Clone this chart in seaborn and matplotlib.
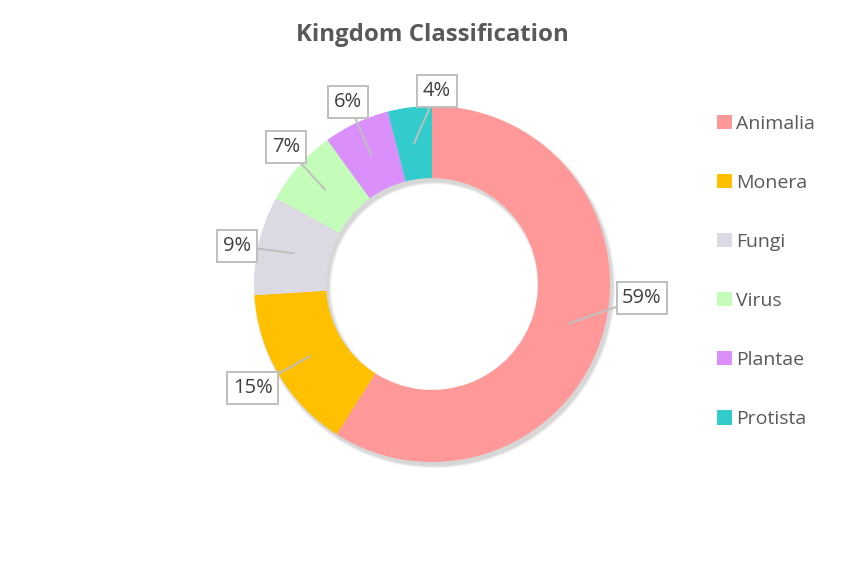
import numpy as np
import matplotlib
matplotlib.use("Agg")
import matplotlib.pyplot as plt
from matplotlib.patches import Wedge, Patch
import seaborn as sns

# ---- data ----
categories = ["Animalia", "Monera", "Fungi", "Virus", "Plantae", "Protista"]
values = [59, 15, 9, 7, 6, 4]
colors = ["#FF9999", "#FFC000", "#DDD9E3", "#C4FDBA", "#DA8FFB", "#33CCCC"]
title = "Kingdom Classification"

# label box positions (layout, in axes units relative to radius 1)
label_pos = [(1.18, -0.079), (-1.006, -0.584), (-1.096, 0.213),
             (-0.820, 0.770), (-0.472, 1.023), (0.028, 1.084)]

sns.set_theme(style="white")
plt.rcParams["font.family"] = ["Open Sans", "DejaVu Sans"]

fig = plt.figure(figsize=(8.64, 5.61), dpi=100)
ax = fig.add_axes([0, 0, 1, 1])
R = 178.0

ring_w = 0.405
# soft shadow
for i in range(8):
    d = 0.004 * (i + 1)
    ax.add_patch(Wedge((0.014, -0.02), 1.0 + d * 0.5, 0, 360, width=ring_w + d,
                       facecolor="black", alpha=0.02, lw=0, zorder=1))

wedges, _ = ax.pie(values, colors=colors, startangle=90, counterclock=False,
                   radius=1.0, wedgeprops=dict(width=ring_w, linewidth=0, zorder=2),
                   frame=False)
ax.set_xlim(-432 / R, 432 / R)
ax.set_ylim((284 - 561) / R, 284 / R)
ax.set_aspect("auto")
ax.axis("off")

total = sum(values)
for w, v, pos in zip(wedges, values, label_pos):
    ang = np.deg2rad((w.theta1 + w.theta2) / 2)
    rmid = 1.0 - ring_w / 2
    anchor = (rmid * np.cos(ang), rmid * np.sin(ang))
    ax.annotate(f"{round(100 * v / total)}%", xy=anchor, xytext=pos,
                ha="center", va="center", fontsize=14.5, color="#404040",
                bbox=dict(boxstyle="square,pad=0.28", fc="white", ec="#BFBFBF", lw=1.4),
                arrowprops=dict(arrowstyle="-", color="#BFBFBF", lw=1.4,
                                shrinkA=0, shrinkB=0),
                zorder=5)

fig.text(432 / 864, 1 - 35 / 561, title, ha="center", va="center",
         fontsize=17.3, fontweight="bold", color="#595959")

handles = [Patch(facecolor=c, edgecolor="none") for c in colors]
fig.legend(handles, categories, loc="upper left",
           bbox_to_anchor=(699 / 864, 1 - 97 / 561), frameon=False,
           fontsize=14, labelcolor="#595959", handlelength=0.8, handleheight=0.8,
           handletextpad=0.2, labelspacing=2.1)

fig.savefig("out.png", dpi=100, facecolor="white")
